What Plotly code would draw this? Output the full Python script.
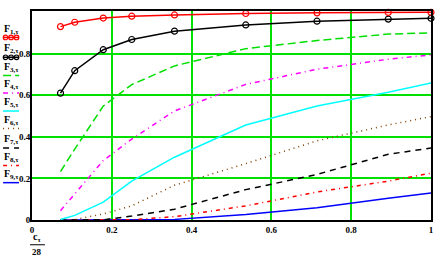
import plotly.graph_objects as go

# x values (c_tau / 28)
x_vals = [2/28, 3/28, 5/28, 7/28, 10/28, 15/28, 20/28, 25/28, 28/28]

F1 = [0.930, 0.951, 0.971, 0.980, 0.986, 0.993, 0.996, 0.998, 0.999]
F2 = [0.610, 0.718, 0.819, 0.868, 0.908, 0.938, 0.956, 0.966, 0.970]
F3 = [0.233, 0.341, 0.548, 0.651, 0.741, 0.824, 0.863, 0.894, 0.900]
F4 = [0.045, 0.127, 0.286, 0.389, 0.524, 0.652, 0.725, 0.773, 0.794]
F5 = [0.002, 0.022, 0.086, 0.187, 0.302, 0.457, 0.548, 0.614, 0.659]
F6 = [0.000, 0.002, 0.029, 0.068, 0.167, 0.271, 0.381, 0.457, 0.497]
F7 = [0.000, 0.000, 0.001, 0.019, 0.052, 0.146, 0.219, 0.316, 0.346]
F8 = [0.000, 0.000, 0.000, 0.001, 0.016, 0.068, 0.135, 0.187, 0.225]
F9 = [0.000, 0.000, 0.000, 0.000, 0.003, 0.027, 0.059, 0.105, 0.130]

x_ticks = [0, 0.2, 0.4, 0.6, 0.8, 1]
x_tick_text = ["0", "0.2", "0.4", "0.6", "0.8", "1"]
y_ticks = [0, 0.2, 0.4, 0.6, 0.8]
y_tick_text = ["0", "0.2", "0.4", "0.6", "0.8"]

series_names = ["1", "2", "3", "4", "5", "6", "7", "8", "9"]
series_vals = [F1, F2, F3, F4, F5, F6, F7, F8, F9]
styles = [
    dict(color="#ff0000", dash="solid", marker=True),
    dict(color="#000000", dash="solid", marker=True),
    dict(color="#00e000", dash="8px,4px", marker=False),
    dict(color="#ff00ff", dash="5px,4px,1px,4px", marker=False),
    dict(color="#00ffff", dash="solid", marker=False),
    dict(color="#804000", dash="1px,4px", marker=False),
    dict(color="#000000", dash="6px,5px", marker=False),
    dict(color="#ff0000", dash="4px,4px,1px,4px", marker=False),
    dict(color="#0000ff", dash="solid", marker=False),
]

W, H = 443, 261
L, R, T, B = 32, 432, 9, 220

fig = go.Figure()
# draw lower series first so top ones overlay
for name, vals, st in reversed(list(zip(series_names, series_vals, styles))):
    fig.add_trace(go.Scatter(
        x=x_vals, y=vals,
        mode="lines+markers" if st["marker"] else "lines",
        line=dict(color=st["color"], width=1.5, dash=st["dash"]),
        marker=dict(symbol="circle-open", size=6, color=st["color"], line=dict(width=1.2)),
        showlegend=False, cliponaxis=False if st["marker"] else True,
    ))

def px(xp):
    return (xp - L) / (R - L)

def py(yp):
    return (B - yp) / (B - T)

text_rows = [28, 47, 66, 83, 101.5, 120, 139, 157.3, 174.5]
line_rows = [35.7, 55.7, 74, 91.7, 110, 127.7, 147.3, 165, 182.3]
annotations = []
shapes = []
for name, st, ty, ly in zip(series_names, styles, text_rows, line_rows):
    annotations.append(dict(
        x=px(2), y=py(ty), xref="paper", yref="paper",
        text="F<sub><span style='font-size:7px'>%s,τ</span></sub>" % name, showarrow=False,
        xanchor="left", yanchor="middle",
        font=dict(family="Liberation Serif", size=10, color="black", weight="bold"),
    ))
    shapes.append(dict(
        type="line", xref="paper", yref="paper",
        x0=px(3), x1=px(19), y0=py(ly), y1=py(ly),
        line=dict(color=st["color"], width=1.5, dash=st["dash"]),
    ))
    if st["marker"]:
        for cx in [5.5, 11, 16.5]:
            shapes.append(dict(
                type="circle", xref="paper", yref="paper",
                x0=px(cx - 2.3), x1=px(cx + 2.3), y0=py(ly - 2.3), y1=py(ly + 2.3),
                line=dict(color=st["color"], width=1.2),
            ))

# x-axis title as a fraction c_tau / 28
annotations.append(dict(
    x=px(37), y=py(238), xref="paper", yref="paper",
    text="c<sub><span style='font-size:7px'>τ</span></sub>", showarrow=False,
    xanchor="center", yanchor="middle",
    font=dict(family="Liberation Serif", size=10, color="black", weight="bold"),
))
shapes.append(dict(type="line", xref="paper", yref="paper",
                   x0=px(30), x1=px(45), y0=py(245), y1=py(245),
                   line=dict(color="black", width=1)))
annotations.append(dict(
    x=px(37), y=py(252), xref="paper", yref="paper",
    text="28", showarrow=False, xanchor="center", yanchor="middle",
    font=dict(family="Liberation Serif", size=9, color="black", weight="bold"),
))

tickfont = dict(family="Liberation Serif", size=9, color="black", weight="bold")
fig.update_layout(
    width=W, height=H,
    margin=dict(l=L, r=W - R, t=T, b=H - B, pad=0),
    paper_bgcolor="white", plot_bgcolor="white",
    annotations=annotations, shapes=shapes,
    xaxis=dict(range=[0, 1], tickvals=x_ticks, ticktext=x_tick_text,
               showgrid=True, gridcolor="#00e000", gridwidth=2, zeroline=False,
               showline=True, linecolor="black", linewidth=2, mirror=True,
               ticks="", tickfont=tickfont, fixedrange=True),
    yaxis=dict(range=[0, 1.005], tickvals=y_ticks, ticktext=y_tick_text,
               showgrid=True, gridcolor="#00e000", gridwidth=2, zeroline=False,
               showline=True, linecolor="black", linewidth=2, mirror=True,
               ticks="", tickfont=tickfont, fixedrange=True, ticklabelstandoff=-2),
    showlegend=False,
)

fig.write_html("out.html", config={"displayModeBar": False},
               post_script="document.body.style.margin='0';document.body.style.padding='0';document.body.style.overflow='hidden';")
